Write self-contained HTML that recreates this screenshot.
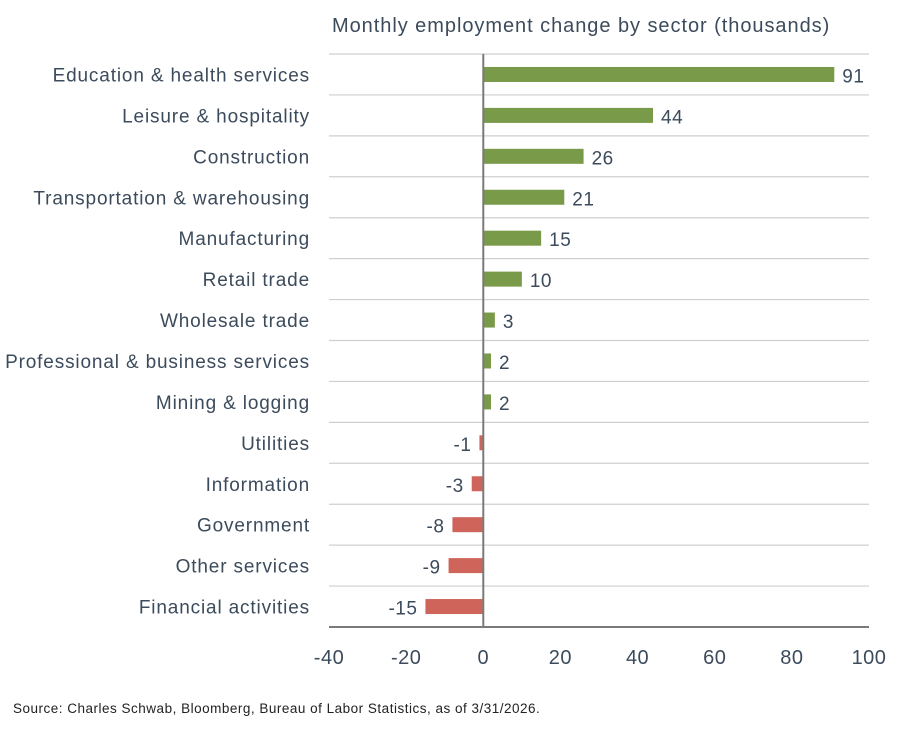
<!DOCTYPE html>
<html><head><meta charset="utf-8"><style>
body{margin:0;background:#fff;width:900px;height:727px;overflow:hidden;font-family:"Liberation Sans",sans-serif}
</style></head><body>
<svg id="chart" width="900" height="727" xmlns="http://www.w3.org/2000/svg"></svg>
<script>
const categories=["Education & health services","Leisure & hospitality","Construction","Transportation & warehousing","Manufacturing","Retail trade","Wholesale trade","Professional & business services","Mining & logging","Utilities","Information","Government","Other services","Financial activities"];
const values=[91,44,26,21,15,10,3,2,2,-1,-3,-8,-9,-15];
const ticks=[-40,-20,0,20,40,60,80,100];
const svg=document.getElementById('chart');
const NS='http://www.w3.org/2000/svg';
const x0=329,x1=869,plotTop=54,plotBottom=627;
const rowH=(plotBottom-plotTop)/categories.length;
const xs=v=>x0+(v-(-40))/(140)*(x1-x0);
const yr=i=>plotTop+rowH*(i+0.5);
function mk(t,a,txt){const e=document.createElementNS(NS,t);for(const k in a)e.setAttribute(k,a[k]);if(txt!=null)e.textContent=txt;svg.appendChild(e);return e;}
let t=mk('text',{x:332,y:32,'font-size':20,fill:'#3c4b5c','letter-spacing':'0.95'},'Monthly employment change by sector (thousands)');


for(let i=0;i<categories.length;i++){
 const g=mk('line',{x1:x0,x2:x1,y1:plotTop+rowH*i,y2:plotTop+rowH*i,stroke:'#cfcfcf','stroke-width':1.2});
 
 
}
categories.forEach((c,i)=>{
 const v=values[i],y=yr(i);
 const l=mk('text',{x:310,y:y+7,'font-size':19,fill:'#3c4b5c','text-anchor':'end','letter-spacing':'0.85'},c);
 
 
 const a=Math.min(xs(0),xs(v)),w=Math.abs(xs(v)-xs(0));
 const b=mk('rect',{x:a,y:y-7.5,width:w,height:15,fill:v>=0?'#799a48':'#cf655a'});
 
 
 const vl=mk('text',{x:v>=0?xs(v)+8:xs(v)-8,y:y+8,'font-size':19,fill:'#3c4b5c','text-anchor':v>=0?'start':'end','letter-spacing':'0.5'},String(v));
 
 
});
const ax=mk('line',{x1:x0,x2:x1,y1:plotBottom,y2:plotBottom,stroke:'#7a7a7a','stroke-width':2});


const z=mk('line',{x1:xs(0),x2:xs(0),y1:plotTop,y2:plotBottom,stroke:'#7a7a7a','stroke-width':2});


ticks.forEach(v=>{
 const tl=mk('text',{x:xs(v),y:664,'font-size':20,fill:'#3c4b5c','text-anchor':'middle','letter-spacing':'0.5'},String(v));
 
 
});
const s=mk('text',{x:13,y:713,'font-size':13.5,fill:'#222','letter-spacing':'0.5'},'Source: Charles Schwab, Bloomberg, Bureau of Labor Statistics, as of 3/31/2026.');


</script>
</body></html>
